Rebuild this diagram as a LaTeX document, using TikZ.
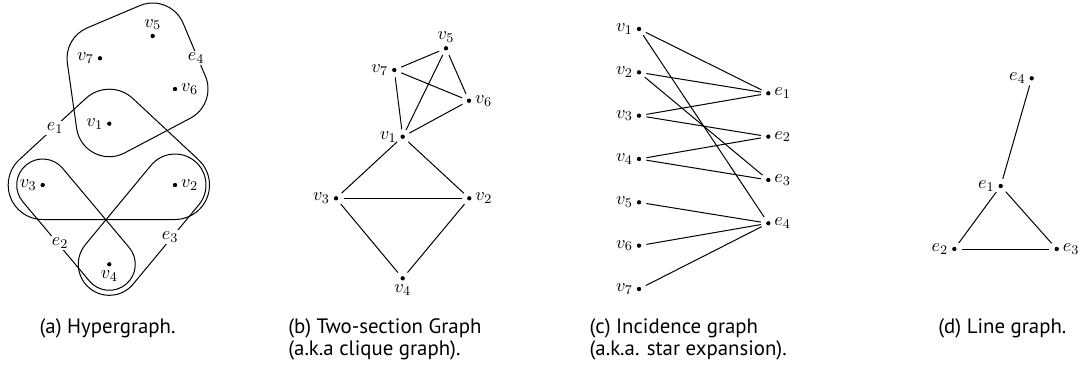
\documentclass[tikz,border=0pt]{standalone}
\usepackage{fontspec}
\setsansfont{PT Sans}
\usetikzlibrary{calc}
% corner of a padded hull: previous point, corner, next point, radius
\newcommand\hcorner[4]{%
  \draw[hedge] let \p1=($(#2)-(#1)$), \p2=($(#3)-(#2)$),
    \n1={atan2(\y1,\x1)+90}, \n2={atan2(\y2,\x2)+90},
    \n3={mod(\n2-\n1+720,360)-360} in
    ($(#2)+(\n1:#4)$) arc[start angle=\n1, delta angle=\n3, radius=#4] -- ($(#3)+(\n2:#4)$);}
\begin{document}
\begin{tikzpicture}[x=0.6pt,y=-0.6pt,
  vdot/.style={circle,fill=black,inner sep=0pt,minimum size=2.6pt},
  gedge/.style={line width=0.6pt,shorten <=3pt,shorten >=3pt},
  hedge/.style={line width=0.6pt},
  elab/.style={fill=white,inner sep=1pt,font=\fontsize{11}{13}\selectfont},
  captext/.style={anchor=base west,inner sep=0pt,font=\sffamily\fontsize{12.5}{14}\selectfont},
  every label/.style={font=\fontsize{11}{13}\selectfont,inner sep=2pt}]
\useasboundingbox (0,0) rectangle (1085,372);

% ---------- (a) hypergraph ----------
\coordinate (pa5) at (152.7,36);
\coordinate (pa7) at (100,58.3);
\coordinate (pa6) at (175,89);
\coordinate (pa1) at (109.3,123.7);
\coordinate (pa3) at (42.7,185);
\coordinate (pa2) at (175,185);
\coordinate (pa4) at (109.3,264.3);
% e4 = {v5,v6,v1,v7}
\hcorner{pa7}{pa5}{pa6}{19.8pt}
\hcorner{pa5}{pa6}{pa1}{19.8pt}
\hcorner{pa6}{pa1}{pa7}{19.8pt}
\hcorner{pa1}{pa7}{pa5}{19.8pt}
% e1 = {v1,v2,v3}
\hcorner{pa3}{pa1}{pa2}{20.7pt}
\hcorner{pa1}{pa2}{pa3}{20.7pt}
\hcorner{pa2}{pa3}{pa1}{20.7pt}
% e2 = {v3,v4}
\hcorner{pa3}{pa4}{pa3}{15.6pt}
\hcorner{pa4}{pa3}{pa4}{15.6pt}
% e3 = {v2,v4}
\hcorner{pa2}{pa4}{pa2}{18.6pt}
\hcorner{pa4}{pa2}{pa4}{18.6pt}
% hyperedge labels
\node[elab] (le4) at (196,58) {$e_4$};
\node[elab] (le1) at (55,128) {$e_1$};
\node[elab] (le2) at (60,243) {$e_2$};
\node[elab] (le3) at (170,237) {$e_3$};
% vertices
\node[vdot,label=above:$v_5$] (a5) at (pa5) {};
\node[vdot,label=left:$v_7$] (a7) at (pa7) {};
\node[vdot,label=right:$v_6$] (a6) at (pa6) {};
\node[vdot,label=left:$v_1$] (a1) at (pa1) {};
\node[vdot,label=left:$v_3$] (a3) at (pa3) {};
\node[vdot,label=right:$v_2$] (a2) at (pa2) {};
\node[vdot,label=below:$v_4$] (a4) at (pa4) {};

% ---------- (b) two-section graph ----------
\node[vdot,label=above:$v_5$] (b5) at (446,48.3) {};
\node[vdot,label=left:$v_7$] (b7) at (394.3,70) {};
\node[vdot,label=right:$v_6$] (b6) at (469,100.7) {};
\node[vdot,label=left:$v_1$] (b1) at (402.7,136.7) {};
\node[vdot,label=left:$v_3$] (b3) at (336,198.3) {};
\node[vdot,label=right:$v_2$] (b2) at (469.3,198.3) {};
\node[vdot,label=below:$v_4$] (b4) at (402.7,278.3) {};
\foreach \s/\t in {b5/b7,b5/b6,b5/b1,b7/b6,b7/b1,b6/b1,b1/b3,b1/b2,b3/b2,b3/b4,b2/b4}
  \draw[gedge] (\s) -- (\t);

% ---------- (c) incidence graph ----------
\foreach \i in {1,...,7}
  \node[vdot,label=left:$v_{\i}$] (c\i) at (639,{29+43.33*(\i-1)}) {};
\foreach \j in {1,...,4}
  \node[vdot,label=right:$e_{\j}$] (ce\j) at (768.3,{93.3+43.33*(\j-1)}) {};
\foreach \s/\t in {c1/ce1,c1/ce4,c2/ce1,c2/ce3,c3/ce1,c3/ce2,c4/ce2,c4/ce3,c5/ce4,c6/ce4,c7/ce4}
  \draw[gedge] (\s) -- (\t);

% ---------- (d) line graph ----------
\node[vdot,label=left:$e_4$] (d4) at (1031.7,78.3) {};
\node[vdot,label=left:$e_1$] (d1) at (1000.7,186) {};
\node[vdot,label=left:$e_2$] (d2) at (954.3,249) {};
\node[vdot,label=right:$e_3$] (d3) at (1056.7,249) {};
\foreach \s/\t in {d4/d1,d1/d2,d1/d3,d2/d3}
  \draw[gedge] (\s) -- (\t);

% ---------- captions ----------
\node[captext] (capa) at (39.3,333.3) {(a) Hypergraph.};
\node[captext] (capb1) at (288,333.3) {(b) Two-section Graph};
\node[captext] (capb2) at (288,355) {(a.k.a clique graph).};
\node[captext] (capc1) at (589.3,333.3) {(c) Incidence graph};
\node[captext] (capc2) at (589.3,355) {(a.k.a. star expansion).};
\node[captext] (capd) at (938,333.3) {(d) Line graph.};
\end{tikzpicture}
\end{document}
